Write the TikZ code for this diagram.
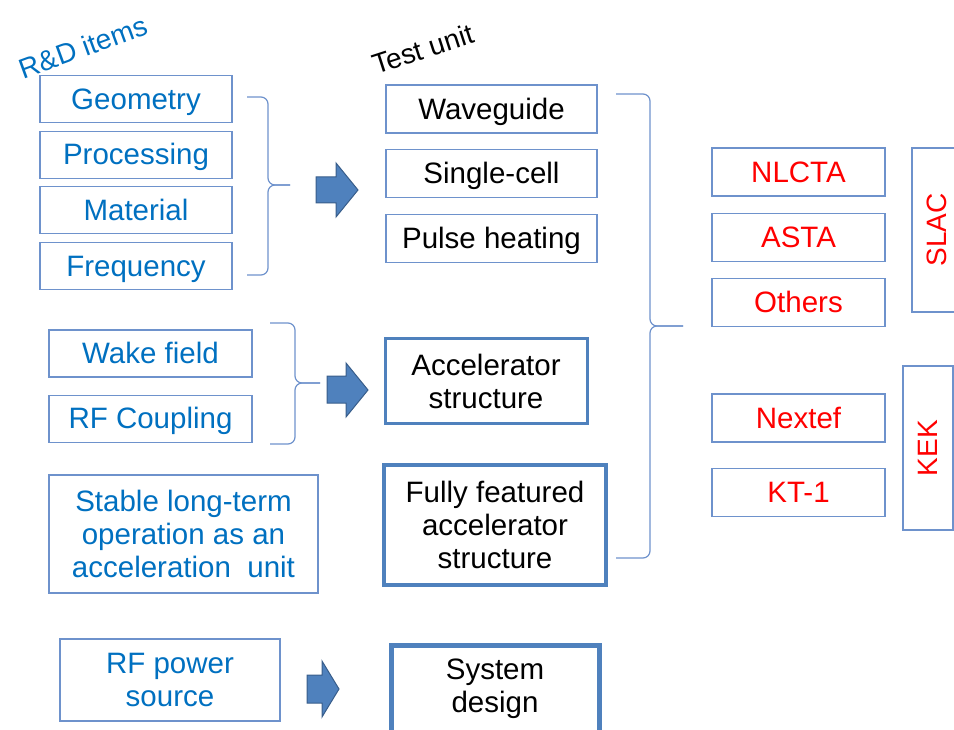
\documentclass[tikz,border=0pt]{standalone}
\usepackage{fontspec}
\setmainfont{Liberation Sans}
\usetikzlibrary{positioning}
\definecolor{itemblue}{RGB}{0,112,192}
\definecolor{lineblue}{RGB}{110,146,204}
\definecolor{boxblue}{RGB}{79,129,189}
\definecolor{arrowedge}{RGB}{56,93,138}
\begin{document}
\begin{tikzpicture}[x=1pt,y=-1pt,
  every node/.style={font=\fontsize{29.5}{33}\selectfont, align=center, inner sep=0pt},
  oneline/.style={text height=26.7pt, text depth=6.3pt},
  item/.style={draw=lineblue, line width=1.2pt, text=itemblue, minimum height=47pt},
  unit/.style={draw=lineblue, line width=1.2pt, oneline, minimum width=211pt, minimum height=48pt},
  bigunit/.style={draw=boxblue, line width=#1},
  site/.style={draw=lineblue, line width=1.2pt, oneline, text=red, minimum width=173pt, minimum height=48pt},
  lab/.style={draw=lineblue, line width=1.2pt, text=red, rotate=90, minimum width=164pt, minimum height=50pt, font=\fontsize{28}{30}\selectfont},
  bracket/.style={draw=lineblue, line width=1.2pt, rounded corners=7pt},
  fat/.style={fill=boxblue, draw=arrowedge, line width=1pt}]
\useasboundingbox (0,0) rectangle (954,730);
% headings
\node[text=itemblue, rotate=20, font=\fontsize{28}{30}\selectfont] (rdlabel) at (83,47) {R\&D items};
\node[rotate=18, font=\fontsize{28}{30}\selectfont] (unitlabel) at (423,49) {Test unit};
% R&D items
\node[item, oneline, minimum width=192pt] (geometry) at (136,99) {Geometry};
\node[item, oneline, minimum width=192pt, below=7.5pt of geometry] (processing) {Processing};
\node[item, oneline, minimum width=192pt, below=7.5pt of processing] (material) {Material};
\node[item, oneline, minimum width=192pt, below=7.5pt of material] (frequency) {Frequency};
\node[item, oneline, minimum width=203pt] (wake) at (150.5,353.5) {Wake field};
\node[item, oneline, minimum width=203pt, below=17pt of wake] (coupling) {RF Coupling};
\node[item, minimum width=269pt, minimum height=118pt] (stable) at (183.5,534) {Stable long-term\\operation as an\\acceleration\ \ unit};
\node[item, minimum width=220pt, minimum height=82pt] (rfpower) at (170,680) {RF power\\source};
% test units
\node[unit] (waveguide) at (491.5,109) {Waveguide};
\node[unit, below=15.5pt of waveguide] (singlecell) {Single-cell};
\node[unit, below=15.5pt of singlecell] (pulse) {Pulse heating};
\node[bigunit=3pt, minimum width=202pt, minimum height=84pt] (accel) at (486,381) {Accelerator\\structure};
\node[bigunit=4pt, minimum width=222pt, minimum height=120pt] (fullacc) at (495,525) {Fully featured\\accelerator\\structure};
\node[bigunit=5pt, minimum width=208pt, minimum height=88pt] (system) at (495,689) {System\\design};
% test sites
\node[site] (nlcta) at (798.5,172) {NLCTA};
\node[site, below=16pt of nlcta] (asta) {ASTA};
\node[site, below=16pt of asta] (others) {Others};
\node[site] (nextef) at (798.5,418) {Nextef};
\node[site, below=25pt of nextef] (kt) {KT-1};
\node[lab] (slac) at (937,230) {SLAC};
\node[lab] (kek) at (928,448) {KEK};
% brackets
\draw[bracket] (247,97) -- (268,97) -- (268,185) -- (290,185);
\draw[bracket] (290,185) -- (268,185) -- (268,275) -- (247,275);
\draw[bracket] (270,323) -- (295,323) -- (295,383) -- (320,383);
\draw[bracket] (320,383) -- (295,383) -- (295,444) -- (270,444);
\draw[bracket] (616,94) -- (650,94) -- (650,326) -- (683,326);
\draw[bracket] (683,326) -- (650,326) -- (650,558) -- (616,558);
% block arrows
\draw[fat] (316,177) -- (336,177) -- (336,163) -- (358,190) -- (336,217) -- (336,203) -- (316,203) -- cycle;
\draw[fat] (327,376) -- (346,376) -- (346,363) -- (368,390) -- (346,417) -- (346,403) -- (327,403) -- cycle;
\draw[fat] (307,675) -- (322,675) -- (322,661) -- (339,689) -- (322,717) -- (322,703) -- (307,703) -- cycle;
\end{tikzpicture}
\end{document}
